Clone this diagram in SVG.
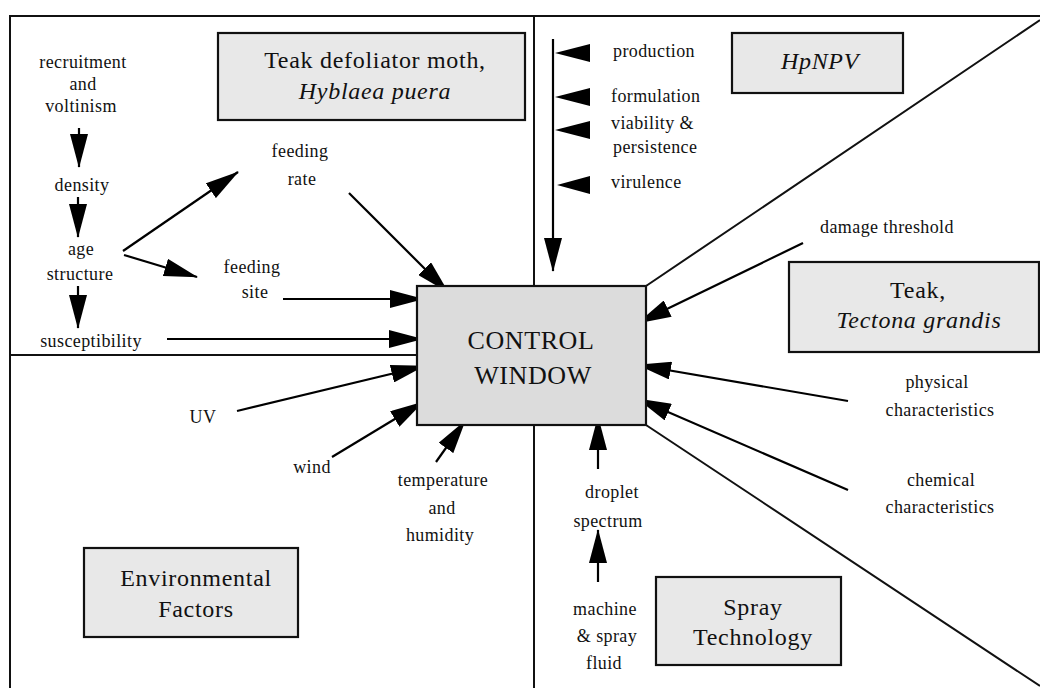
<svg xmlns="http://www.w3.org/2000/svg" width="1040" height="688" viewBox="0 0 1040 688">
<style>
text{font-family:"Liberation Serif","Times New Roman",serif;fill:#111}
.lb{font-size:18px;letter-spacing:0.4px;text-anchor:middle}
.ll{font-size:18px;letter-spacing:0.4px;text-anchor:start}
.tt{font-size:24px;letter-spacing:0.7px;text-anchor:middle}
.ct{font-size:26px;letter-spacing:0.6px;text-anchor:middle}
.it{font-style:italic}
.box{fill:#e8e8e8;stroke:#111;stroke-width:2.2}
.cbox{fill:#dcdcdc;stroke:#111;stroke-width:2.2}
.fr{stroke:#111;stroke-width:2;fill:none}
.ar{stroke:#000;stroke-width:2.2;fill:none;marker-end:url(#ah)}
.tri{fill:#000}
</style>
<defs>
<marker id="ah" viewBox="0 0 34 18" refX="33" refY="9" markerWidth="34" markerHeight="18" markerUnits="userSpaceOnUse" orient="auto">
<path d="M0,0 L34,9 L0,18 z" fill="#000"/>
</marker>
</defs>
<rect width="1040" height="688" fill="#fff"/>
<g id="frame">
<path class="fr" d="M10,688 L10,16 L1040,16"/>
<path class="fr" d="M10,355 L417,355"/>
<path class="fr" d="M534,16 L534,286 M534,425 L534,688"/>
<path class="fr" d="M646,286 L1040,20 M646,425 L1040,686"/>
</g>
<g id="connectors">
<line class="ar" x1="79" y1="128" x2="79" y2="167"/>
<line class="ar" x1="78" y1="197" x2="78" y2="237"/>
<line class="ar" x1="78" y1="286" x2="78" y2="328"/>
<line class="ar" x1="123" y1="251" x2="238" y2="172"/>
<line class="ar" x1="124" y1="255" x2="197" y2="277"/>
<line class="ar" x1="349" y1="193" x2="448" y2="292"/>
<line class="ar" x1="283" y1="299" x2="423" y2="299"/>
<line class="ar" x1="167" y1="339" x2="422" y2="339"/>
<line class="ar" x1="237" y1="411" x2="424" y2="366"/>
<line class="ar" x1="332" y1="457" x2="423" y2="402"/>
<line class="ar" x1="436" y1="462" x2="465" y2="421"/>
<line class="ar" x1="553" y1="39" x2="553" y2="271"/>
<polygon class="tri" points="555,53 590,44 590,62"/>
<polygon class="tri" points="555,97 590,88 590,106"/>
<polygon class="tri" points="555,130 590,121 590,139"/>
<polygon class="tri" points="557,185 590,176 590,194"/>
<line class="ar" x1="803" y1="243" x2="638" y2="323"/>
<line class="ar" x1="848" y1="401" x2="638" y2="365"/>
<line class="ar" x1="848" y1="490" x2="638" y2="399"/>
<line class="ar" x1="598" y1="469" x2="598" y2="417"/>
<line class="ar" x1="598" y1="582" x2="598" y2="530"/>
</g>
<g id="moth">
<rect class="box" x="218" y="33" width="307" height="87"/>
<text class="tt" x="375" y="68">Teak defoliator moth,</text>
<text class="tt it" x="375" y="99">Hyblaea puera</text>
</g>
<g id="hpnpv">
<rect class="box" x="732" y="33" width="171" height="60"/>
<text class="tt it" x="820" y="69">HpNPV</text>
</g>
<g id="teak">
<rect class="box" x="789" y="262" width="250" height="90"/>
<text class="tt" x="918" y="298">Teak,</text>
<text class="tt it" x="919" y="328">Tectona grandis</text>
</g>
<g id="env">
<rect class="box" x="84" y="548" width="214" height="89"/>
<text class="tt" x="196" y="586">Environmental</text>
<text class="tt" x="196" y="617">Factors</text>
</g>
<g id="spray">
<rect class="box" x="656" y="577" width="185" height="88"/>
<text class="tt" x="753" y="615">Spray</text>
<text class="tt" x="753" y="645">Technology</text>
</g>
<g id="control">
<rect class="cbox" x="417" y="286" width="229" height="139"/>
<text class="ct" x="531" y="349">CONTROL</text>
<text class="ct" x="533" y="384">WINDOW</text>
</g>
<g id="recruitment"><text class="lb" x="83" y="68">recruitment</text><text class="lb" x="83" y="90">and</text><text class="lb" x="81" y="112">voltinism</text></g>
<g id="density"><text class="lb" x="82" y="191">density</text></g>
<g id="age"><text class="lb" x="81" y="255">age</text><text class="lb" x="80" y="280">structure</text></g>
<g id="susceptibility"><text class="lb" x="91" y="347">susceptibility</text></g>
<g id="feedrate"><text class="lb" x="300" y="157">feeding</text><text class="lb" x="302" y="185">rate</text></g>
<g id="feedsite"><text class="lb" x="252" y="273">feeding</text><text class="lb" x="255" y="298">site</text></g>
<g id="npvlabels">
<text class="ll" x="613" y="57">production</text>
<text class="ll" x="611" y="102">formulation</text>
<text class="ll" x="611" y="129">viability &amp;</text>
<text class="ll" x="613" y="153">persistence</text>
<text class="ll" x="611" y="188">virulence</text>
</g>
<g id="damage"><text class="lb" x="887" y="233">damage threshold</text></g>
<g id="physical"><text class="lb" x="937" y="388">physical</text><text class="lb" x="940" y="416">characteristics</text></g>
<g id="chemical"><text class="lb" x="941" y="486">chemical</text><text class="lb" x="940" y="513">characteristics</text></g>
<g id="droplet"><text class="lb" x="612" y="498">droplet</text><text class="lb" x="608" y="527">spectrum</text></g>
<g id="machine"><text class="lb" x="605" y="615">machine</text><text class="lb" x="607" y="642">&amp; spray</text><text class="lb" x="604" y="669">fluid</text></g>
<g id="uv"><text class="lb" x="203" y="423">UV</text></g>
<g id="wind"><text class="lb" x="312" y="473">wind</text></g>
<g id="temp"><text class="lb" x="443" y="486">temperature</text><text class="lb" x="442" y="514">and</text><text class="lb" x="440" y="541">humidity</text></g>
</svg>
